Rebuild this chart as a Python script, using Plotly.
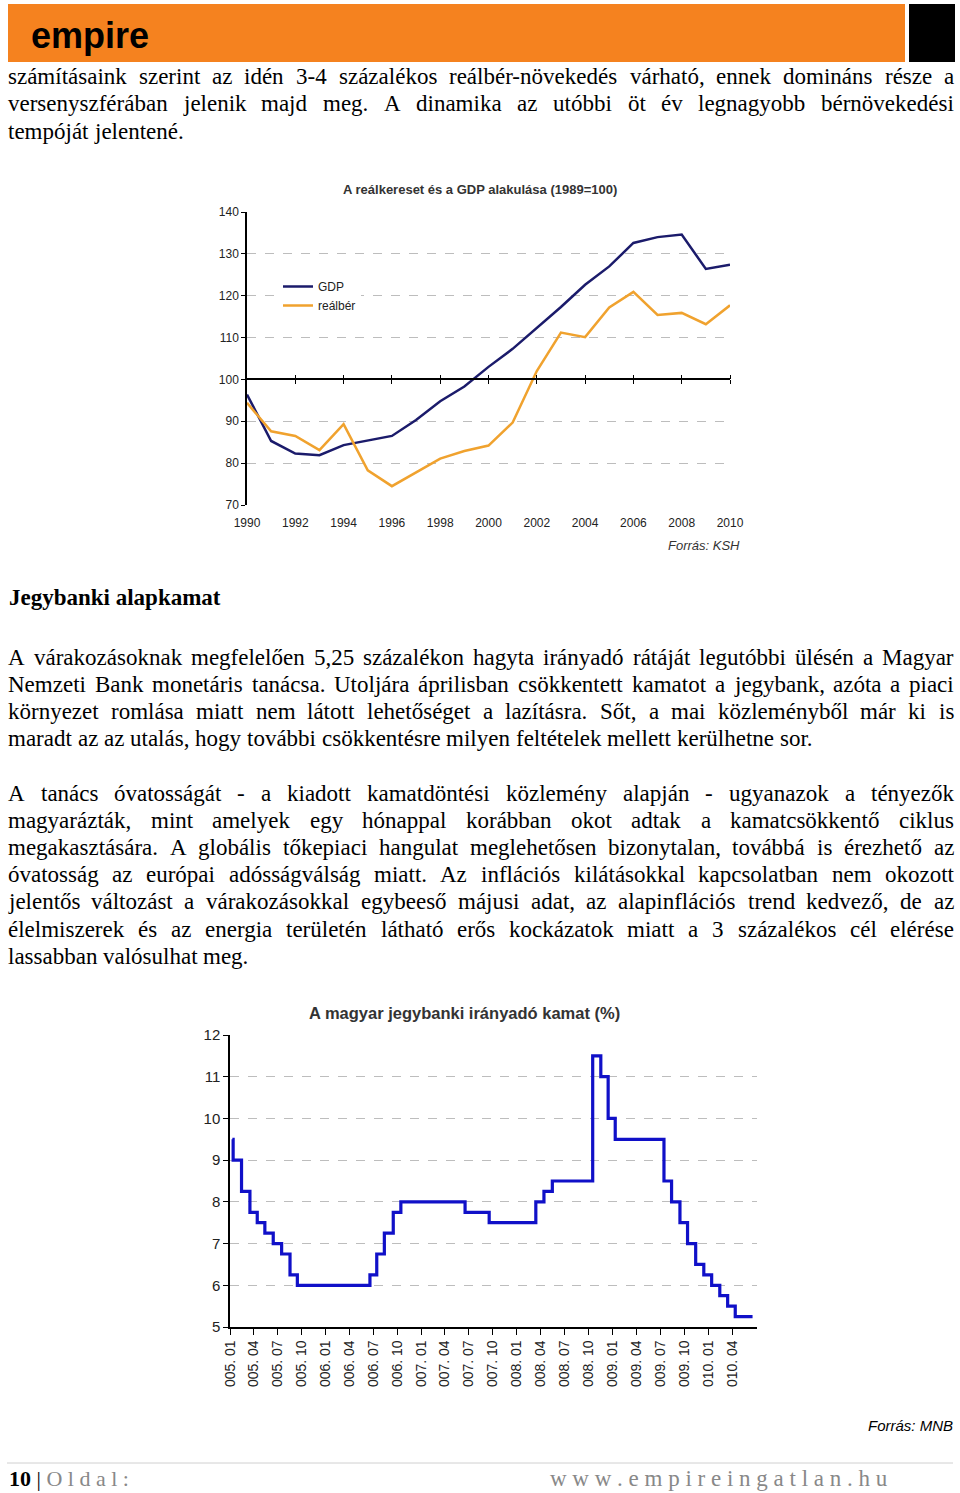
import plotly.graph_objects as go

W, H = 960, 1493

# chart 1: real wages and GDP (1989=100)
years = list(range(1990, 2011))
gdp = [96.4, 85.3, 82.3, 81.9, 84.3, 85.4, 86.5, 90.3, 94.8, 98.3, 103.0,
       107.3, 112.2, 117.3, 122.6, 127.0, 132.6, 134.0, 134.6, 126.4, 127.4]
realber = [94.4, 87.6, 86.5, 83.1, 89.3, 78.3, 74.5, 77.7, 81.1, 82.9, 84.2,
           89.7, 102.0, 111.2, 110.1, 117.2, 120.9, 115.4, 115.9, 113.2, 117.7]
year_ticks = list(range(1990, 2011, 2))

# chart 2: MNB base rate (step changes)
rate_dates = ["2005-01-10", "2005-01-13", "2005-02-14", "2005-03-18", "2005-04-15",
              "2005-05-14", "2005-06-15", "2005-07-17", "2005-08-18", "2005-09-15",
              "2006-06-19", "2006-07-15", "2006-08-13", "2006-09-16", "2006-10-15",
              "2007-06-17", "2007-09-17", "2008-03-13", "2008-04-13", "2008-05-15",
              "2008-10-16", "2008-11-16", "2008-12-14", "2009-01-10", "2009-07-15",
              "2009-08-13", "2009-09-14", "2009-10-13", "2009-11-13", "2009-12-14",
              "2010-01-13", "2010-02-13", "2010-03-15", "2010-04-13", "2010-06-18"]
rates = [9.5, 9.0, 8.25, 7.75, 7.5, 7.25, 7.0, 6.75, 6.25, 6.0,
         6.25, 6.75, 7.25, 7.75, 8.0, 7.75, 7.5, 8.0, 8.25, 8.5,
         11.5, 11.0, 10.0, 9.5, 8.5, 8.0, 7.5, 7.0, 6.5, 6.25,
         6.0, 5.75, 5.5, 5.25, 5.25]
quarter_ticks = ["2005-01-01", "2005-04-01", "2005-07-01", "2005-10-01",
                 "2006-01-01", "2006-04-01", "2006-07-01", "2006-10-01",
                 "2007-01-01", "2007-04-01", "2007-07-01", "2007-10-01",
                 "2008-01-01", "2008-04-01", "2008-07-01", "2008-10-01",
                 "2009-01-01", "2009-04-01", "2009-07-01", "2009-10-01",
                 "2010-01-01", "2010-04-01"]
quarter_labels = ["005. 01", "005. 04", "005. 07", "005. 10",
                  "006. 01", "006. 04", "006. 07", "006. 10",
                  "007. 01", "007. 04", "007. 07", "007. 10",
                  "008. 01", "008. 04", "008. 07", "008. 10",
                  "009. 01", "009. 04", "009. 07", "009. 10",
                  "010. 01", "010. 04"]

# page text
para_top = [
    "számításaink szerint az idén 3-4 százalékos reálbér-növekedés várható, ennek domináns része a",
    "versenyszférában jelenik majd meg. A dinamika az utóbbi öt év legnagyobb bérnövekedési",
    "tempóját jelentené.",
]
para_1 = [
    "A várakozásoknak megfelelően 5,25 százalékon hagyta irányadó rátáját legutóbbi ülésén a Magyar",
    "Nemzeti Bank monetáris tanácsa. Utoljára áprilisban csökkentett kamatot a jegybank, azóta a piaci",
    "környezet romlása miatt nem látott lehetőséget a lazításra. Sőt, a mai közleményből már ki is",
    "maradt az az utalás, hogy további csökkentésre milyen feltételek mellett kerülhetne sor.",
]
para_2 = [
    "A tanács óvatosságát - a kiadott kamatdöntési közlemény alapján - ugyanazok a tényezők",
    "magyarázták, mint amelyek egy hónappal korábban okot adtak a kamatcsökkentő ciklus",
    "megakasztására. A globális tőkepiaci hangulat meglehetősen bizonytalan, továbbá is érezhető az",
    "óvatosság az európai adósságválság miatt. Az inflációs kilátásokkal kapcsolatban nem okozott",
    "jelentős változást a várakozásokkal egybeeső májusi adat, az alapinflációs trend kedvező, de az",
    "élelmiszerek és az energia területén látható erős kockázatok miatt a 3 százalékos cél elérése",
    "lassabban valósulhat meg.",
]

# Times / Liberation Serif advance widths (1/1000 em), used to justify lines
TW = {" ": 250, ",": 250, ".": 250, "-": 333, ":": 278, "%": 833, "(": 333, ")": 333}
for c in "0123456789":
    TW[c] = 500
lower = dict(a=444, b=500, c=444, d=500, e=444, f=333, g=500, h=500, i=278, j=278,
             k=500, l=278, m=778, n=500, o=500, p=500, q=500, r=333, s=389, t=278,
             u=500, v=500, w=722, x=500, y=500, z=444)
upper = dict(A=722, B=667, C=667, D=722, E=611, F=556, G=722, H=722, I=333, J=389,
             K=722, L=611, M=889, N=722, O=722, P=556, Q=722, R=667, S=556, T=611,
             U=722, V=722, W=944, X=722, Y=722, Z=611)
TW.update(lower)
TW.update(upper)
for acc, base in zip("áéíóöőúüűÁÉÍÓÖŐÚÜŰ", "aeiooouuuAEIOOOUUU"):
    TW[acc] = TW[base]


def width(s, size):
    return sum(TW.get(c, 500) for c in s) * size / 1000.0


def px(x):
    return x / W


def py(y):
    return 1 - y / H


annotations = []


def add_paragraph(lines, y0, step, size=23, left=7, right=953):
    for i, line in enumerate(lines):
        words = line.split(" ")
        ws = [width(w, size) for w in words]
        if i == len(lines) - 1 or len(words) == 1:
            gap = 0.25 * size
        else:
            gap = (right - left - sum(ws)) / (len(words) - 1)
        x = left
        for w, ww in zip(words, ws):
            annotations.append(dict(
                x=px(x), y=py(y0 + i * step), xref="paper", yref="paper",
                text=w, showarrow=False, xanchor="left", yanchor="middle",
                borderpad=0,
                font=dict(family="Liberation Serif", size=size, color="black")))
            x += ww + gap


add_paragraph(para_top, 76, 27.5)
add_paragraph(para_1, 657, 27.3)
add_paragraph(para_2, 793, 27.2)

sans = "Liberation Sans"

annotations += [
    dict(x=px(7), y=py(597), text="<b>Jegybanki alapkamat</b>", xanchor="left",
         font=dict(family="Liberation Serif", size=23, color="black")),
    dict(x=px(480), y=py(190), text="<b>A reálkereset és a GDP alakulása (1989=100)</b>",
         xanchor="center", font=dict(family=sans, size=13, color="#333")),
    dict(x=px(742), y=py(545), text="<i>Forrás: KSH</i>", xanchor="right",
         font=dict(family=sans, size=13, color="#333")),
    dict(x=px(464), y=py(1013), text="<b>A magyar jegybanki irányadó kamat (%)</b>",
         xanchor="center", font=dict(family=sans, size=16.5, color="#333")),
    dict(x=px(955), y=py(1425), text="<i>Forrás: MNB</i>", xanchor="right",
         font=dict(family=sans, size=15, color="black")),
    dict(x=px(29), y=py(36), text="<b>empire</b>", xanchor="left",
         font=dict(family=sans, size=36, color="black")),
    dict(x=px(7), y=py(1478), xanchor="left",
         text="<b>10</b> | <span style='color:#888'>O l d a l :</span>",
         font=dict(family="Liberation Serif", size=22, color="black")),
    dict(x=px(548), y=py(1478), xanchor="left",
         text="w w w . e m p i r e i n g a t l a n . h u",
         font=dict(family="Liberation Serif", size=23, color="#888")),
]
for a in annotations:
    a.setdefault("xref", "paper")
    a.setdefault("yref", "paper")
    a.setdefault("showarrow", False)
    a.setdefault("yanchor", "middle")

shapes = [
    dict(type="rect", xref="paper", yref="paper", x0=px(8), x1=px(905), y0=py(62), y1=py(4),
         fillcolor="#F5821F", line=dict(width=0)),
    dict(type="rect", xref="paper", yref="paper", x0=px(909), x1=px(955), y0=py(62), y1=py(4),
         fillcolor="black", line=dict(width=0)),
    dict(type="line", xref="paper", yref="paper", x0=px(7), x1=px(953), y0=py(1463), y1=py(1463),
         line=dict(color="#d0d0d0", width=1)),
]

fig = go.Figure()
fig.add_trace(go.Scatter(x=years, y=gdp, name="GDP", mode="lines",
                         line=dict(color="#1B1B6B", width=2.5)))
fig.add_trace(go.Scatter(x=years, y=realber, name="reálbér", mode="lines",
                         line=dict(color="#F0A22E", width=2.5)))
# empty traces so the axis drawn at 100 exists
fig.add_trace(go.Scatter(x=[], y=[], xaxis="x2", yaxis="y", showlegend=False))
fig.add_trace(go.Scatter(x=[], y=[], xaxis="x3", yaxis="y", showlegend=False))
fig.add_trace(go.Scatter(x=rate_dates, y=rates, mode="lines", showlegend=False,
                         line=dict(color="#1010C8", width=3.2, shape="hv"),
                         xaxis="x4", yaxis="y4"))

d1 = [py(505), py(212)]
p100 = d1[0] + (100 - 70) / 70 * (d1[1] - d1[0])
tick1 = dict(family=sans, size=12, color="#222")
tick2 = dict(family=sans, size=15, color="#222")

cross = dict(overlaying="x", anchor="free", position=p100, range=[1990, 2010],
             tickvals=year_ticks[1:], ticks="outside", ticklen=4, tickcolor="black",
             showline=True, linecolor="black", linewidth=1.5,
             showticklabels=False, showgrid=False, zeroline=False)

fig.update_layout(
    width=W, height=H, autosize=False,
    margin=dict(l=0, r=0, t=0, b=0, pad=0, autoexpand=False),
    paper_bgcolor="white", plot_bgcolor="white",
    xaxis=dict(domain=[px(247), px(730)], anchor="y", range=[1990, 2010],
               tickvals=year_ticks, showline=False, showgrid=False, zeroline=False,
               ticks="outside", ticklen=7, tickcolor="white", tickfont=tick1),
    yaxis=dict(domain=d1, anchor="x", range=[70, 140], dtick=10,
               showline=True, linecolor="black", linewidth=1.5,
               ticks="outside", ticklen=4, tickcolor="black",
               showgrid=True, gridcolor="#bdbdbd", griddash="dash", gridwidth=1,
               zeroline=False, tickfont=tick1),
    xaxis2=dict(cross, side="bottom"),
    xaxis3=dict(cross, side="top"),
    xaxis4=dict(domain=[px(230), px(757)], anchor="y4", type="date",
                range=["2005-01-01", "2010-07-05"], tickvals=quarter_ticks,
                ticktext=quarter_labels, tickangle=-90,
                showline=True, linecolor="black", linewidth=1.5,
                ticks="outside", ticklen=6, tickcolor="black",
                showgrid=False, zeroline=False, tickfont=dict(family=sans, size=14, color="#222")),
    yaxis4=dict(domain=[py(1327), py(1035)], anchor="x4", range=[5, 12], dtick=1,
                showline=True, linecolor="black", linewidth=1.5,
                ticks="outside", ticklen=5, tickcolor="black",
                showgrid=True, gridcolor="#bdbdbd", griddash="dash", gridwidth=1,
                zeroline=False, tickfont=tick2),
    legend=dict(x=px(278), y=py(272), xanchor="left", yanchor="top",
                bgcolor="white", font=dict(family=sans, size=12, color="#222"),
                itemwidth=30, tracegroupgap=0),
    annotations=annotations,
    shapes=shapes,
)

fig.write_html("out.html", config={"displayModeBar": False},
               post_script="document.body.style.margin='0';")
